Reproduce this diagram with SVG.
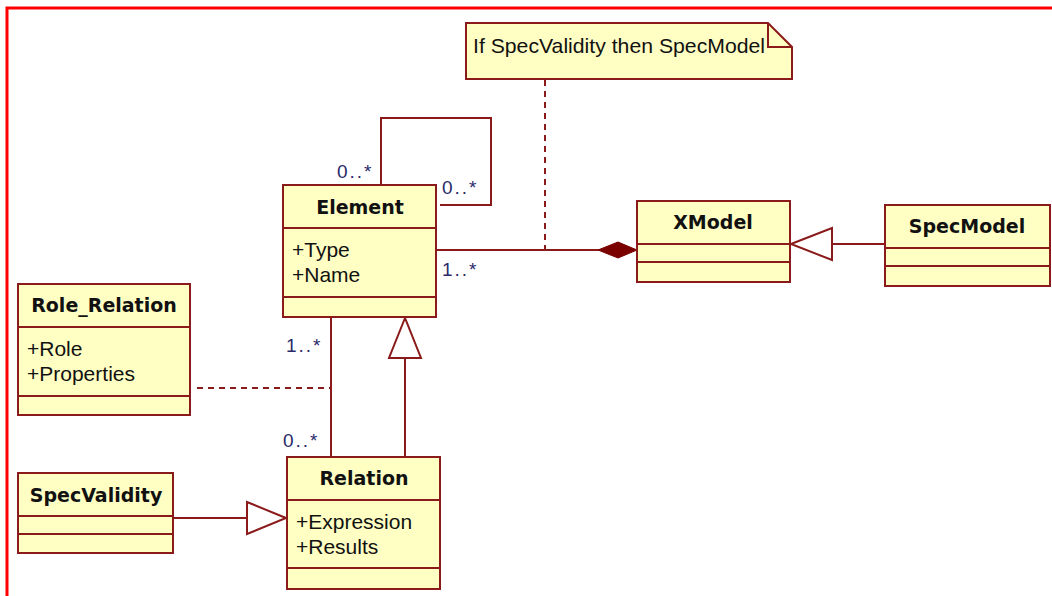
<svg xmlns="http://www.w3.org/2000/svg" width="1052" height="596" viewBox="0 0 1052 596">
<style>
.box{fill:#FFFFC4;stroke:#8B1A1A;stroke-width:2}
.ln{fill:none;stroke:#8B1A1A;stroke-width:2}
.dash{fill:none;stroke:#8B1A1A;stroke-width:2;stroke-dasharray:6,5}
.tri{fill:#fff;stroke:#8B1A1A;stroke-width:2}
.name{font-family:"DejaVu Sans","Liberation Sans",sans-serif;font-weight:bold;font-size:19px;fill:#111;text-anchor:middle}
.attr{font-family:"Liberation Sans",sans-serif;font-size:21px;fill:#111}
.mult{font-family:"Liberation Sans",sans-serif;font-size:19px;fill:#2a2a6a;letter-spacing:2px}
.note{font-family:"Liberation Sans",sans-serif;font-size:21px;fill:#111}
</style>
<rect width="1052" height="596" fill="#fff"/>
<path d="M7,596 V8 H1052" fill="none" stroke="#ff0000" stroke-width="3"/>

<g id="connectors">
  <path class="dash" d="M545,80 V250"/>
  <path class="ln" d="M381,185 V118 H491 V205 H440"/>
  <path class="ln" d="M436,250 H600"/>
  <path d="M637,250 L618,242 L598,250 L618,258 Z" fill="#7a0000" stroke="#7a0000" stroke-width="1"/>
  <path class="ln" d="M885,244 H832"/>
  <path class="tri" d="M791,244 L832,228 L832,260 Z"/>
  <path class="ln" d="M331,317 V457"/>
  <path class="dash" d="M197,388 H331"/>
  <path class="ln" d="M405,457 V358"/>
  <path class="tri" d="M405,318 L389,358 L421,358 Z"/>
  <path class="ln" d="M173,518 H247"/>
  <path class="tri" d="M286,518 L247,502 L247,534 Z"/>
  <text class="mult" x="337" y="178">0..*</text>
  <text class="mult" x="442" y="194">0..*</text>
  <text class="mult" x="442" y="276">1..*</text>
  <text class="mult" x="286" y="352">1..*</text>
  <text class="mult" x="283" y="447">0..*</text>
</g>

<g id="note">
  <path class="box" d="M466,23 H768 L792,47 V79 H466 Z"/>
  <path class="ln" d="M768,23 V47 H792"/>
  <text class="note" x="473" y="53" textLength="292" lengthAdjust="spacingAndGlyphs">If SpecValidity then SpecModel</text>
</g>

<g id="Element">
  <rect class="box" x="283" y="185" width="153" height="132"/>
  <path class="ln" d="M283,228 H436 M283,297 H436"/>
  <text class="name" x="360" y="214">Element</text>
  <text class="attr" x="292" y="257">+Type</text>
  <text class="attr" x="292" y="282">+Name</text>
</g>

<g id="XModel">
  <rect class="box" x="637" y="201" width="153" height="81"/>
  <path class="ln" d="M637,244 H790 M637,262 H790"/>
  <text class="name" x="713" y="229">XModel</text>
</g>

<g id="SpecModel">
  <rect class="box" x="885" y="205" width="165" height="81"/>
  <path class="ln" d="M885,248 H1050 M885,266 H1050"/>
  <text class="name" x="967" y="233">SpecModel</text>
</g>

<g id="Role_Relation">
  <rect class="box" x="18" y="284" width="172" height="131"/>
  <path class="ln" d="M18,327 H190 M18,396 H190"/>
  <text class="name" x="104" y="312">Role_Relation</text>
  <text class="attr" x="27" y="356">+Role</text>
  <text class="attr" x="27" y="381">+Properties</text>
</g>

<g id="Relation">
  <rect class="box" x="287" y="457" width="153" height="132"/>
  <path class="ln" d="M287,500 H440 M287,568 H440"/>
  <text class="name" x="364" y="485">Relation</text>
  <text class="attr" x="296" y="529">+Expression</text>
  <text class="attr" x="296" y="554">+Results</text>
</g>

<g id="SpecValidity">
  <rect class="box" x="18" y="473" width="155" height="80"/>
  <path class="ln" d="M18,516 H173 M18,534 H173"/>
  <text class="name" x="96" y="502">SpecValidity</text>
</g>
</svg>
